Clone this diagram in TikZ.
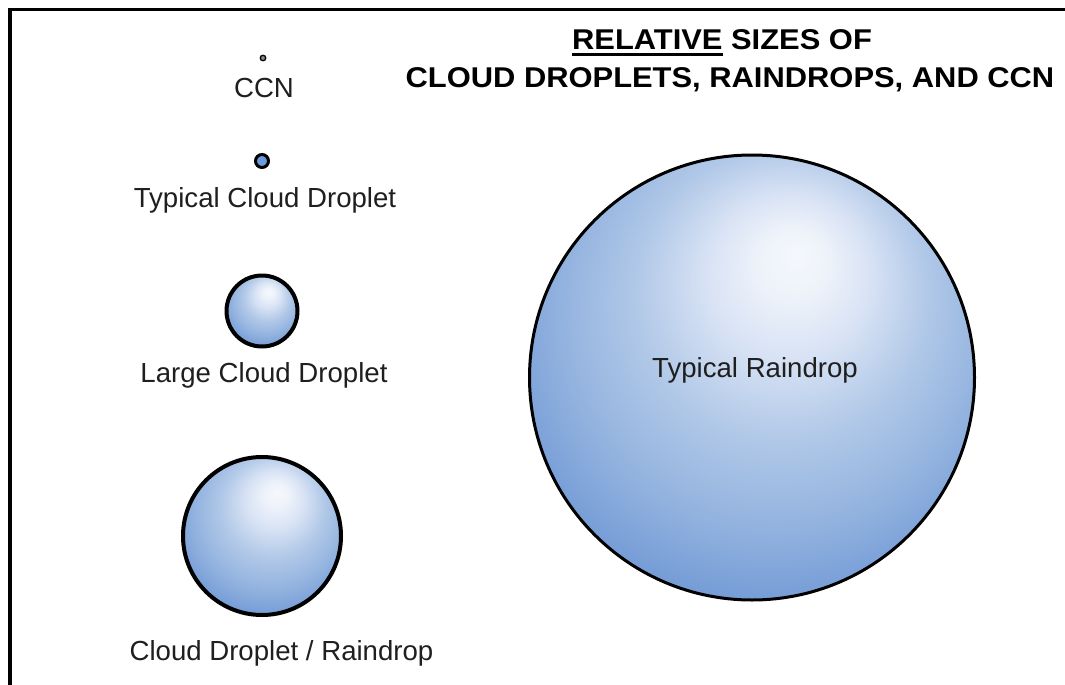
\documentclass[tikz,border=0pt]{standalone}
\usepackage{fontspec}
\setmainfont{Liberation Sans}
\usepackage{graphicx}
\pgfdeclareradialshading{dropshade}{\pgfpoint{5bp}{14bp}}{rgb(0bp)=(0.96,0.97,0.99); rgb(4bp)=(0.93,0.95,0.98); rgb(9bp)=(0.85,0.89,0.96); rgb(16bp)=(0.70,0.79,0.91); rgb(25bp)=(0.56,0.69,0.87); rgb(33bp)=(0.42,0.58,0.83); rgb(40bp)=(0.33,0.52,0.79); rgb(50bp)=(0.31,0.50,0.78)}
\newcommand\myul[1]{\setbox0\hbox{#1}\rlap{\rule[-6pt]{\wd0}{2.6pt}}\box0\relax}
\begin{document}
\begin{tikzpicture}[x=1pt,y=-1pt,
  drop/.style={circle, draw=black, inner sep=0pt, shading=dropshade},
  lbl/.style={font=\fontsize{27.6}{33}\selectfont, text=black!88, anchor=base, inner sep=0pt},
  ttl/.style={font=\fontsize{28.6}{34}\selectfont\bfseries, text=black, anchor=base, inner sep=0pt}]
\useasboundingbox (0,0) rectangle (1065,685);
\fill[white] (0,0) rectangle (1065,685);
\draw[line width=3.7pt, line join=miter] (10,690) -- (10,9.6) -- (1070,9.6);
% title
\node[ttl] (t1) at (722,50) {\scalebox{1.08}[1]{\myul{RELATIVE} SIZES OF}};
\node[ttl] (t2) at (730,87) {\scalebox{1.08}[1]{CLOUD DROPLETS, RAINDROPS, AND CCN}};
% CCN
\node[circle, draw=black, fill=black!45, line width=1.3pt, minimum size=5.5pt, inner sep=0pt] (ccn) at (263,58) {};
\node[lbl] (ccnl) at (264,97) {CCN};
% typical cloud droplet
\node[circle, draw=black, fill={rgb,1:red,0.43;green,0.6;blue,0.86}, line width=3pt, minimum size=13pt, inner sep=0pt] (tcd) at (262,161) {};
\node[lbl] (tcdl) at (265,207) {Typical Cloud Droplet};
% large cloud droplet
\node[drop, line width=4pt, minimum size=71pt] (lcd) at (262,311) {};
\node[lbl] (lcdl) at (264,382) {Large Cloud Droplet};
% cloud droplet / raindrop
\node[drop, line width=4pt, minimum size=158pt] (cdr) at (262,536) {};
\node[lbl] (cdrl) at (281.5,660) {Cloud Droplet / Raindrop};
% typical raindrop
\node[drop, line width=3pt, minimum size=445pt] (rain) at (752,377.5) {};
\node[lbl] (rainl) at (755,377) {Typical Raindrop};
\end{tikzpicture}
\end{document}
